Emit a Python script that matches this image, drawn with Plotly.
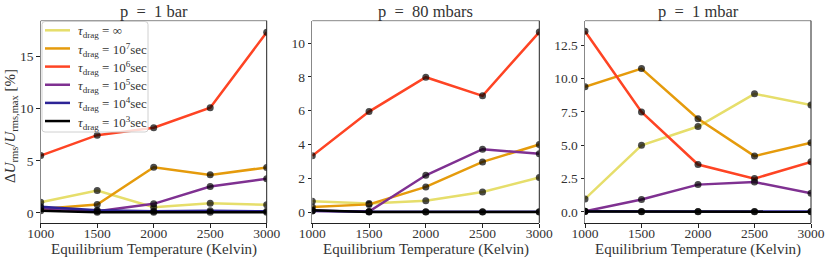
import plotly.graph_objects as go

temps = [1000, 1500, 2000, 2500, 3000]
labels = ["<i>τ</i><sub>drag</sub> = ∞", "<i>τ</i><sub>drag</sub> = 10<sup>7</sup>sec",
          "<i>τ</i><sub>drag</sub> = 10<sup>6</sup>sec", "<i>τ</i><sub>drag</sub> = 10<sup>5</sup>sec",
          "<i>τ</i><sub>drag</sub> = 10<sup>4</sup>sec", "<i>τ</i><sub>drag</sub> = 10<sup>3</sup>sec"]
colors = ["#e6de6b", "#e59b0c", "#fe4424", "#7f3191", "#2d2496", "#000000"]
titles = ["p  =  1 bar", "p  =  80 mbars", "p  =  1 mbar"]

# panel 1: p = 1 bar
p1_inf = [1.02, 2.14, 0.54, 0.92, 0.77]
p1_1e7 = [0.38, 0.80, 4.38, 3.65, 4.36]
p1_1e6 = [5.50, 7.46, 8.17, 10.10, 17.34]
p1_1e5 = [0.45, 0.15, 0.87, 2.53, 3.27]
p1_1e4 = [0.60, 0.25, 0.15, 0.20, 0.15]
p1_1e3 = [0.20, 0.05, 0.05, 0.05, 0.05]
# panel 2: p = 80 mbars
p2_inf = [0.65, 0.52, 0.69, 1.20, 2.06]
p2_1e7 = [0.31, 0.47, 1.50, 2.98, 4.01]
p2_1e6 = [3.34, 5.95, 7.98, 6.88, 10.65]
p2_1e5 = [0.08, 0.05, 2.19, 3.73, 3.46]
p2_1e4 = [0.10, 0.03, 0.03, 0.03, 0.03]
p2_1e3 = [0.12, 0.02, 0.02, 0.02, 0.02]
# panel 3: p = 1 mbar
p3_inf = [0.98, 5.00, 6.41, 8.86, 8.03]
p3_1e7 = [9.39, 10.76, 6.99, 4.19, 5.20]
p3_1e6 = [13.56, 7.50, 3.56, 2.50, 3.76]
p3_1e5 = [0.05, 0.93, 2.05, 2.24, 1.41]
p3_1e4 = [0.06, 0.03, 0.03, 0.03, 0.03]
p3_1e3 = [0.03, 0.02, 0.02, 0.02, 0.02]

panels = [
    [p1_inf, p1_1e7, p1_1e6, p1_1e5, p1_1e4, p1_1e3],
    [p2_inf, p2_1e7, p2_1e6, p2_1e5, p2_1e4, p2_1e3],
    [p3_inf, p3_1e7, p3_1e6, p3_1e5, p3_1e4, p3_1e3],
]
x_ticks = [1000, 1500, 2000, 2500, 3000]
y_ticks = [[0, 5, 10, 15], [0, 2, 4, 6, 8, 10], [0, 2.5, 5, 7.5, 10, 12.5]]
y_ticktext = [["0", "5", "10", "15"], ["0", "2", "4", "6", "8", "10"],
              ["0.0", "2.5", "5.0", "7.5", "10.0", "12.5"]]
y_ranges = [[-0.97, 18.45], [-0.63, 11.32], [-0.83, 14.35]]

W, H = 830, 263
xdoms = [[40.7 / W, 266.7 / W], [312.3 / W, 539.3 / W], [585 / W, 811 / W]]
ydom = [1 - 223 / H, 1 - 20.7 / H]
FONT = "Liberation Serif"
TXT = "#333333"

fig = go.Figure()
for p, series in enumerate(panels):
    xa = "x" if p == 0 else f"x{p+1}"
    ya = "y" if p == 0 else f"y{p+1}"
    for i, vals in enumerate(series):
        fig.add_trace(go.Scatter(x=temps, y=vals, mode="lines", xaxis=xa, yaxis=ya,
                                 line=dict(color=colors[i], width=2.5),
                                 name=labels[i].replace("<i>", "").replace("</i>", ""),
                                 showlegend=False))
        fig.add_trace(go.Scatter(x=temps, y=vals, mode="markers", xaxis=xa, yaxis=ya,
                                 marker=dict(color="rgba(0,0,0,0.7)", size=7),
                                 showlegend=False, hoverinfo="skip"))

layout = dict(width=W, height=H, margin=dict(l=0, r=0, t=0, b=0, autoexpand=False),
              template="none", showlegend=False,
              plot_bgcolor="white", paper_bgcolor="white",
              font=dict(family=FONT, size=12, color=TXT))
shapes = []
annotations = []
for p in range(3):
    sfx = "" if p == 0 else str(p + 1)
    layout["xaxis" + sfx] = dict(domain=xdoms[p], range=[1000, 3000], anchor="y" + sfx,
                                 tickvals=x_ticks, automargin=False,
                                 ticks="outside", ticklen=3.5, tickcolor="#222", tickwidth=1,
                                 ticklabelstandoff=-6,
                                 showgrid=False, zeroline=False, showline=True,
                                 linecolor="#222", linewidth=1,
                                 tickfont=dict(size=13.5, family=FONT, color=TXT))
    layout["yaxis" + sfx] = dict(domain=ydom, range=y_ranges[p], anchor="x" + sfx,
                                 tickvals=y_ticks[p], ticktext=y_ticktext[p], automargin=False,
                                 ticks="outside", ticklen=3.5, tickcolor="#222", tickwidth=1,
                                 showgrid=False, zeroline=False, showline=True,
                                 linecolor="#888", linewidth=1,
                                 tickfont=dict(size=13.5, family=FONT, color=TXT))
    # top (gray) and right (dark) spines
    shapes.append(dict(type="line", xref=f"x{sfx} domain", yref=f"y{sfx} domain",
                       x0=0, x1=1, y0=1, y1=1, line=dict(color="#888", width=1)))
    shapes.append(dict(type="line", xref=f"x{sfx} domain", yref=f"y{sfx} domain",
                       x0=1, x1=1, y0=0, y1=1, line=dict(color="#222", width=1)))
    cx = (xdoms[p][0] + xdoms[p][1]) / 2
    annotations.append(dict(text=titles[p].replace("  ", "&nbsp;&nbsp;"), x=cx, y=1 - 11 / H,
                            xref="paper", yref="paper",
                            showarrow=False, xanchor="center", yanchor="middle",
                            font=dict(size=16.5, family=FONT, color=TXT)))
    annotations.append(dict(text="Equilibrium Temperature (Kelvin)", x=cx, y=1 - 249.5 / H,
                            xref="paper", yref="paper", showarrow=False,
                            xanchor="center", yanchor="middle",
                            font=dict(size=15, family=FONT, color=TXT)))
annotations.append(dict(text="Δ<i>U</i><sub>rms</sub>/<i>U</i><sub>rms,max</sub> [%]",
                        x=11 / W, y=1 - 126 / H, xref="paper", yref="paper",
                        showarrow=False, textangle=-90, xanchor="center", yanchor="middle",
                        font=dict(size=15, family=FONT, color=TXT)))

# legend (panel 1, upper left), drawn as a framed box with line samples and labels
bx0, bx1, by0, by1, r = 42.0, 148.0, 21.5, 132.0, 3.0
def px(x):
    return x / W
def py(y):
    return 1 - y / H
path = (f"M {px(bx0 + r)},{py(by0)} L {px(bx1 - r)},{py(by0)} "
        f"Q {px(bx1)},{py(by0)} {px(bx1)},{py(by0 + r)} L {px(bx1)},{py(by1 - r)} "
        f"Q {px(bx1)},{py(by1)} {px(bx1 - r)},{py(by1)} L {px(bx0 + r)},{py(by1)} "
        f"Q {px(bx0)},{py(by1)} {px(bx0)},{py(by1 - r)} L {px(bx0)},{py(by0 + r)} "
        f"Q {px(bx0)},{py(by0)} {px(bx0 + r)},{py(by0)} Z")
shapes.append(dict(type="path", path=path, xref="paper", yref="paper", layer="above",
                   fillcolor="rgba(255,255,255,0.8)", line=dict(color="#d0d0d0", width=1)))
for i, lab in enumerate(labels):
    yy = 30.3 + 18.15 * i
    shapes.append(dict(type="line", xref="paper", yref="paper", layer="above",
                       x0=px(45), x1=px(70), y0=py(yy), y1=py(yy),
                       line=dict(color=colors[i], width=2.5)))
    annotations.append(dict(text=lab, x=px(76), y=py(yy + 1.5), xref="paper", yref="paper",
                            showarrow=False, xanchor="left", yanchor="middle",
                            font=dict(size=13, family=FONT, color=TXT)))

layout["shapes"] = shapes
layout["annotations"] = annotations
fig.update_layout(**layout)
fig.write_html("out.html", config={"displayModeBar": False},
               post_script="document.body.style.margin='0';document.body.style.overflow='hidden';")
